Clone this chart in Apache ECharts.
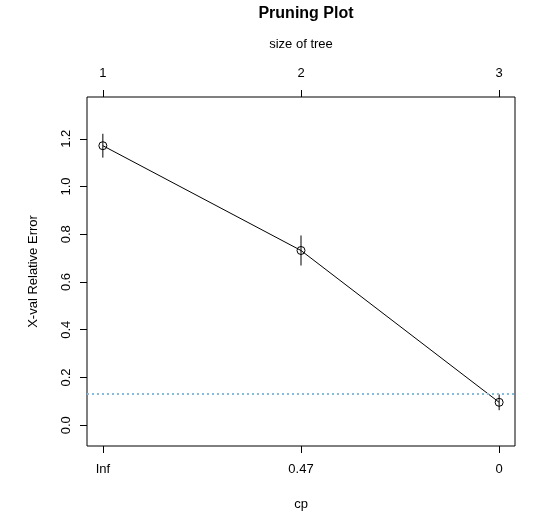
<!DOCTYPE html>
<html>
<head>
<meta charset="utf-8">
<script src="https://cdn.jsdelivr.net/npm/echarts@6/dist/echarts.min.js"></script>
<style>
html, body { margin: 0; padding: 0; background: #fff; }
#chart { width: 543px; height: 522px; }
</style>
</head>
<body>
<div id="chart"></div>
<script>
// tree sizes (top axis) and matching cp values (bottom axis)
const treeSize = [1, 2, 3]
const cpLabels = ['Inf', '0.47', '0']
// cross-validated relative error and its std
const xerror = [1.171, 0.732, 0.096]
const xstd = [0.050, 0.063, 0.033]
// 1-SE reference line
const seLine = 0.129
const yTicks = [0, 0.2, 0.4, 0.6, 0.8, 1.0, 1.2]

const font = 'Liberation Sans, Arial, sans-serif'

const chart = echarts.init(document.getElementById('chart'))

const points = treeSize.map((s, i) => [s, xerror[i]])
const bars = treeSize.map((s, i) => [s, xerror[i] - xstd[i], xerror[i] + xstd[i]])

const xCommon = {
    type: 'value',
    min: 0.92,
    max: 3.08,
    axisLine: { show: false, onZero: false },
    splitLine: { show: false },
    axisTick: {
        show: true,
        length: 7,
        customValues: treeSize,
        lineStyle: { color: '#000', width: 1 }
    },
    nameLocation: 'middle',
    nameTextStyle: { color: '#000', fontSize: 13, fontFamily: font }
}

const option = {
    animation: false,
    title: {
        text: 'Pruning Plot',
        left: 301,
        top: 1,
        textAlign: 'center',
        textStyle: { fontSize: 16, fontWeight: 'bold', color: '#000', fontFamily: font }
    },
    grid: {
        left: 87,
        right: 28,
        top: 97,
        bottom: 76,
        show: true,
        borderColor: '#000',
        borderWidth: 1,
        backgroundColor: 'transparent'
    },
    xAxis: [
        Object.assign({}, xCommon, {
            position: 'bottom',
            name: 'cp',
            nameGap: 52,
            axisLabel: {
                customValues: treeSize,
                margin: 17,
                color: '#000',
                fontSize: 13,
                fontFamily: font,
                formatter: v => cpLabels[treeSize.indexOf(v)]
            }
        }),
        Object.assign({}, xCommon, {
            position: 'top',
            name: 'size of tree',
            nameGap: 46,
            axisLabel: {
                customValues: treeSize,
                margin: 17,
                color: '#000',
                fontSize: 13,
                fontFamily: font,
                formatter: v => String(v)
            }
        })
    ],
    yAxis: {
        type: 'value',
        min: -0.087,
        max: 1.375,
        axisLine: { show: false, onZero: false },
        splitLine: { show: false },
        axisTick: {
            show: true,
            length: 7,
            customValues: yTicks,
            lineStyle: { color: '#000', width: 1 }
        },
        axisLabel: {
            customValues: yTicks,
            rotate: 90,
            margin: 14,
            color: '#000',
            fontSize: 13,
            fontFamily: font,
            formatter: v => v.toFixed(1)
        },
        name: 'X-val Relative Error',
        nameLocation: 'middle',
        nameGap: 47,
        nameRotate: 90,
        nameTextStyle: { color: '#000', fontSize: 13, fontFamily: font }
    },
    series: [
        {
            type: 'line',
            data: points,
            xAxisIndex: 0,
            symbol: 'none',
            lineStyle: { color: '#000', width: 1 },
            markLine: {
                silent: true,
                symbol: 'none',
                label: { show: false },
                lineStyle: { color: '#86bbdd', type: [2, 3], width: 2 },
                data: [{ yAxis: seLine }]
            }
        },
        {
            type: 'custom',
            xAxisIndex: 0,
            data: bars,
            renderItem: (params, api) => {
                const p1 = api.coord([api.value(0), api.value(1)])
                const p2 = api.coord([api.value(0), api.value(2)])
                return {
                    type: 'line',
                    shape: { x1: p1[0], y1: p1[1], x2: p2[0], y2: p2[1] },
                    style: { stroke: '#000', lineWidth: 1 }
                }
            }
        },
        {
            type: 'scatter',
            data: points,
            xAxisIndex: 0,
            symbol: 'circle',
            symbolSize: 8,
            itemStyle: { color: 'transparent', borderColor: '#000', borderWidth: 1, opacity: 1 }
        }
    ]
}

chart.setOption(option)
</script>
</body>
</html>
